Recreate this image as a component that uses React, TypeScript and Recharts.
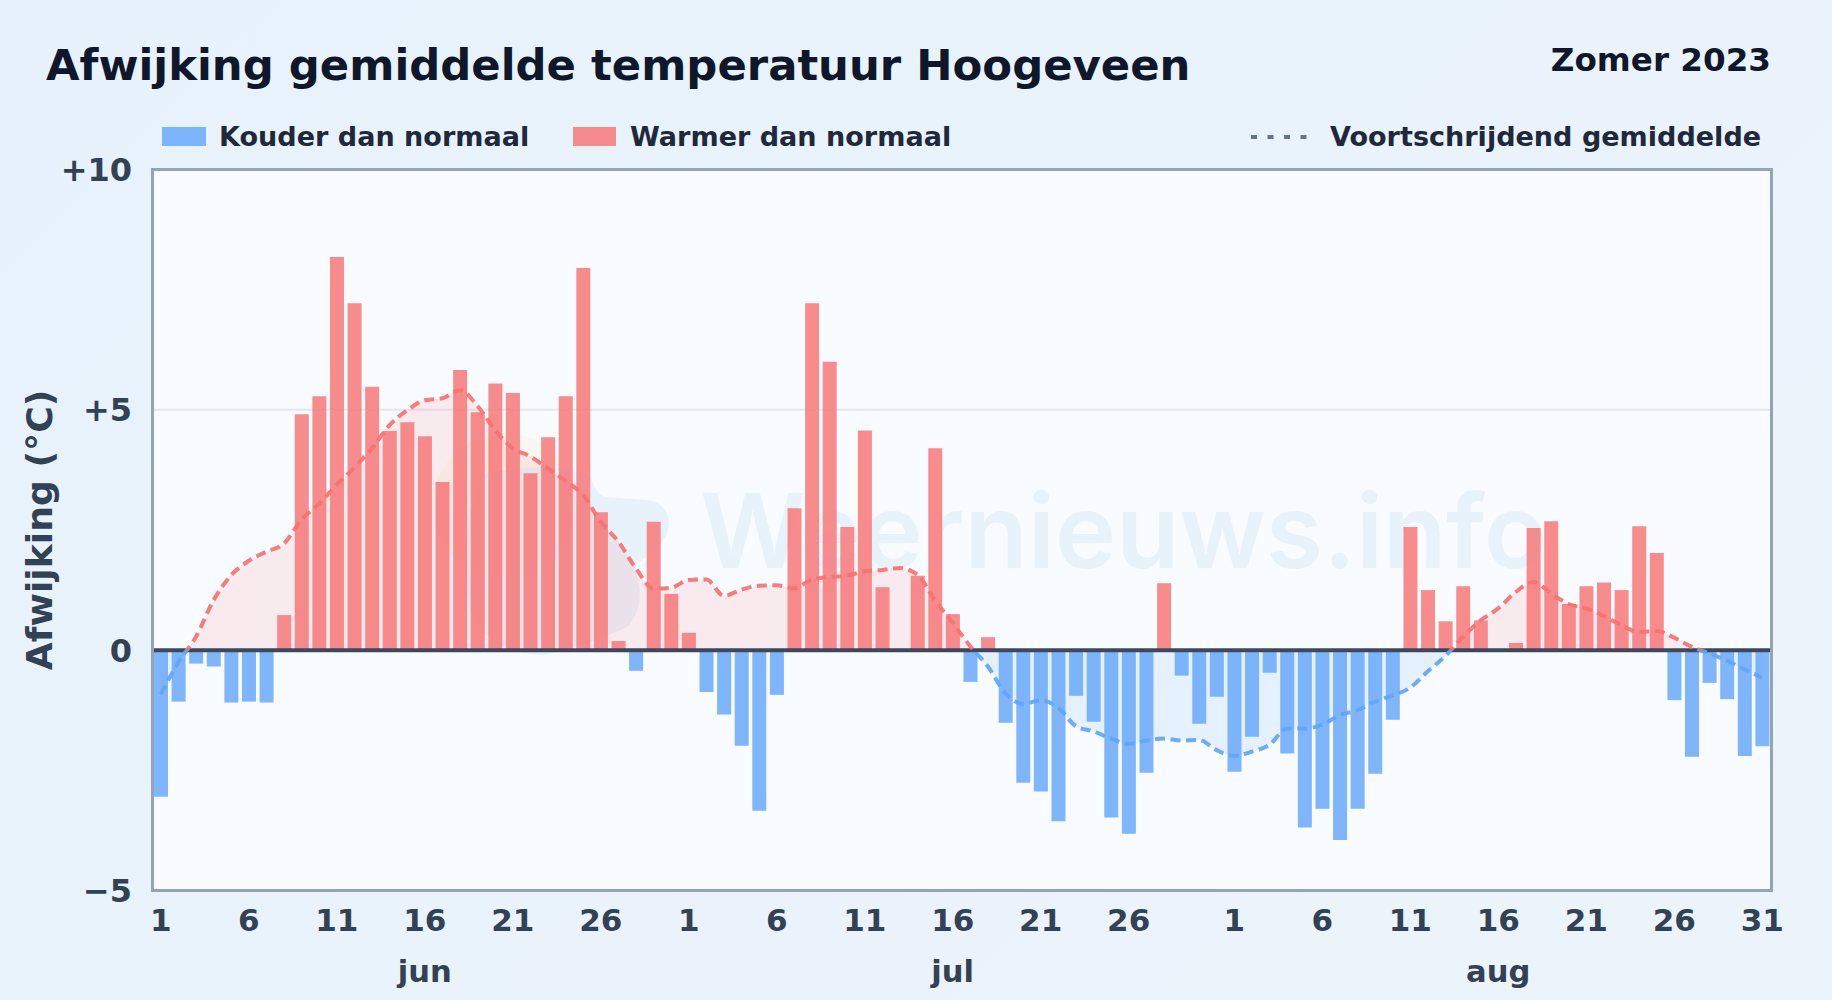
import React from "react";
import { ComposedChart, Area, Bar, Line, XAxis, YAxis, CartesianGrid, ReferenceLine } from "recharts";

const monthLabels = ["jun", "jul", "aug"];
const monthTicks = [15, 45, 76];
const monthLengths = [30, 31, 31];
const dayTicks = [0, 5, 10, 15, 20, 25, 30, 35, 40, 45, 50, 55, 61, 66, 71, 76, 81, 86, 91];
const yTicks = [-5, 0, 5, 10];

const deviations = [
  -3.05, -1.07, -0.28, -0.34, -1.09, -1.07, -1.09, 0.73, 4.91, 5.28, 8.18, 7.22, 5.48, 4.56, 4.74, 4.45, 3.5, 5.83, 4.95, 5.55, 5.35, 3.68, 4.43, 5.28, 7.95, 2.87, 0.19, -0.43, 2.67, 1.17,
  0.36, -0.87, -1.34, -1.99, -3.34, -0.93, 2.95, 7.22, 6.0, 2.56, 4.57, 1.31, 0, 1.55, 4.2, 0.75, -0.66, 0.27, -1.51, -2.76, -2.94, -3.56, -0.95, -1.49, -3.48, -3.82, -2.55, 1.39, -0.53, -1.53, -0.97,
  -2.53, -1.8, -0.47, -2.15, -3.69, -3.3, -3.95, -3.3, -2.57, -1.45, 2.56, 1.25, 0.6, 1.33, 0.62, 0, 0.15, 2.54, 2.68, 0.96, 1.33, 1.41, 1.25, 2.58, 2.02, -1.04, -2.22, -0.68, -1.02, -2.2, -2.0,
];

const movingAverage = [
  -0.92, -0.25, 0.28, 1.04, 1.56, 1.86, 2.05, 2.22, 2.72, 3.05, 3.44, 3.8, 4.2, 4.68, 4.99, 5.2, 5.24, 5.41, 5.08, 4.58, 4.2, 4.03, 3.78, 3.52, 3.23, 2.67, 2.26, 1.7, 1.28, 1.3,
  1.46, 1.47, 1.13, 1.26, 1.34, 1.35, 1.29, 1.47, 1.52, 1.55, 1.64, 1.67, 1.71, 1.57, 1.03, 0.57, 0.08, -0.34, -0.9, -1.12, -1.04, -1.2, -1.58, -1.69, -1.84, -1.95, -1.88, -1.84, -1.88, -1.87, -2.08,
  -2.2, -2.11, -1.97, -1.63, -1.63, -1.55, -1.35, -1.25, -1.07, -0.94, -0.78, -0.44, -0.12, 0.28, 0.62, 0.87, 1.21, 1.42, 1.18, 0.96, 0.87, 0.71, 0.52, 0.38, 0.4, 0.26, 0.07, -0.07, -0.22, -0.4, -0.57,
];

const dayOfIndex = (i: number) => {
  let d = i;
  for (const len of monthLengths) {
    if (d < len) return d + 1;
    d -= len;
  }
  return d + 1;
};

const table = deviations.map((v, i) => ({
  i,
  warmer: v > 0 ? v : 0,
  kouder: v < 0 ? v : 0,
  gemiddelde: movingAverage[i],
}));

const maMax = Math.max(...movingAverage);
const maMin = Math.min(...movingAverage);
const zeroOffset = maMax / (maMax - maMin);

const FONT = "'DejaVu Sans', sans-serif";
const W = 1832;
const H = 1000;
const plot = { left: 152, right: 1771, top: 169.5, bottom: 890.5 };

const abs = (style: React.CSSProperties): React.CSSProperties => ({ position: "absolute", whiteSpace: "nowrap", ...style });

export default function App() {
  return (
    <div style={abs({ left: 0, top: 0, width: W, height: H, overflow: "hidden", background: "linear-gradient(135deg,#e7f2fc,#ecf4fb)", fontFamily: FONT, fontWeight: 700 })}>
      <div style={abs({ left: plot.left, top: plot.top, width: plot.right - plot.left, height: plot.bottom - plot.top, background: "#f8fbff" })} />
      {/* watermark */}
      <svg width={W} height={H} style={abs({ left: 0, top: 0 })}>
        <circle cx={505} cy={505} r={72} fill="#fdf1dc" opacity={0.35} />
        <path d="M 487 473 C 530 465 575 465 590 477 C 595 490 600 497 607 497 L 647 500 C 665 503 672 515 667 533 C 660 550 640 560 633 567 C 645 590 640 615 627 627 C 600 640 570 650 543 655 C 510 655 480 640 470 610 C 460 560 465 500 487 473 Z" fill="#e3effa" opacity={0.75} />
        <text x="700" y="568" fontFamily="Inter, sans-serif" fontWeight={600} fontSize={103.4} fill="#e8f2fa">Weernieuws.info</text>
      </svg>

      <div style={abs({ left: 46, top: 34, fontSize: 43.35, lineHeight: "62px", color: "#0f172a" })}>Afwijking gemiddelde temperatuur Hoogeveen</div>
      <div style={abs({ right: 61, top: 39, fontSize: 32.6, lineHeight: "42px", color: "#0f172a" })}>Zomer 2023</div>

      {/* legend */}
      <div style={abs({ left: 162, top: 127, width: 44, height: 19, background: "#60a5fa", opacity: 0.8 })} />
      <div style={abs({ left: 219, top: 119, fontSize: 27.05, lineHeight: "36px", color: "#1e293b" })}>Kouder dan normaal</div>
      <div style={abs({ left: 573, top: 127, width: 43, height: 19, background: "#f87171", opacity: 0.8 })} />
      <div style={abs({ left: 630, top: 119, fontSize: 27.05, lineHeight: "36px", color: "#1e293b" })}>Warmer dan normaal</div>
      <svg width={60} height={10} style={abs({ left: 1250, top: 132 })}>
        <line x1={1} y1={5} x2={60} y2={5} stroke="#64748b" strokeWidth={4} strokeDasharray="6 10.5" />
      </svg>
      <div style={abs({ left: 1330, top: 119, fontSize: 27.05, lineHeight: "36px", color: "#1e293b" })}>Voortschrijdend gemiddelde</div>

      <div style={abs({ left: 0, top: 0 })}>
        <ComposedChart
          width={W}
          height={H}
          data={table}
          margin={{ top: plot.top, right: W - plot.right, bottom: 0, left: 0 }}
          barCategoryGap={0}
          stackOffset="sign"
        >
          <defs>
            <linearGradient id="maFill" x1="0" y1="0" x2="0" y2="1">
              <stop offset={zeroOffset} stopColor="#f87171" stopOpacity={0.2} />
              <stop offset={zeroOffset} stopColor="#60a5fa" stopOpacity={0.2} />
            </linearGradient>
            <linearGradient id="maStroke" x1="0" y1="0" x2="0" y2="1">
              <stop offset={zeroOffset} stopColor="#f87171" />
              <stop offset={zeroOffset} stopColor="#60a5fa" />
            </linearGradient>
          </defs>
          <CartesianGrid vertical={false} stroke="#e2e8f0" strokeWidth={2} horizontalValues={[5]} syncWithTicks={false} />
          <XAxis
            dataKey="i"
            xAxisId="days"
            ticks={dayTicks}
            interval={0}
            tickFormatter={(i: number) => String(dayOfIndex(i))}
            height={50}
            axisLine={false}
            tickLine={false}
            tick={{ fontFamily: FONT, fontWeight: 700, fontSize: 31, fill: "#334155" }}
            tickMargin={12}
          />
          <XAxis
            dataKey="i"
            xAxisId="months"
            ticks={monthTicks}
            interval={0}
            tickFormatter={(i: number) => monthLabels[monthTicks.indexOf(i)]}
            height={59.5}
            axisLine={false}
            tickLine={false}
            tick={{ fontFamily: FONT, fontWeight: 700, fontSize: 30.6, fill: "#334155" }}
            tickMargin={14}
          />
          <YAxis
            width={plot.left}
            domain={[-5, 10]}
            ticks={yTicks}
            interval={0}
            tickFormatter={(v: number) => (v > 0 ? `+${v}` : v < 0 ? `\u2212${Math.abs(v)}` : "0")}
            axisLine={false}
            tickLine={false}
            tickMargin={14}
            tick={{ fontFamily: FONT, fontWeight: 700, fontSize: 32, fill: "#334155" }}
            label={{ value: "Afwijking (°C)", angle: -90, position: "insideLeft", offset: 39, style: { fontFamily: FONT, fontWeight: 700, fontSize: 36.2, fill: "#334155", textAnchor: "middle" } }}
          />
          <Area xAxisId="days" dataKey="gemiddelde" type="monotone" baseValue={0} stroke="none" fill="url(#maFill)" isAnimationActive={false} dot={false} activeDot={false} />
          <Bar xAxisId="days" dataKey="kouder" stackId="d" barSize={14} fill="#60a5fa" fillOpacity={0.8} isAnimationActive={false} />
          <Bar xAxisId="days" dataKey="warmer" stackId="d" barSize={14} fill="#f87171" fillOpacity={0.8} isAnimationActive={false} />
          <ReferenceLine xAxisId="days" y={0} stroke="#3b485d" strokeWidth={4} />
          <Line xAxisId="days" dataKey="gemiddelde" type="monotone" stroke="url(#maStroke)" strokeWidth={4} strokeOpacity={0.92} strokeDasharray="10 5.5" dot={false} activeDot={false} isAnimationActive={false} />
        </ComposedChart>
      </div>
      <div style={abs({ left: plot.left - 1.5, top: plot.top - 1.5, width: plot.right - plot.left + 3, height: plot.bottom - plot.top + 3, boxSizing: "border-box", border: "3px solid #94a3b8", pointerEvents: "none" })} />
    </div>
  );
}
